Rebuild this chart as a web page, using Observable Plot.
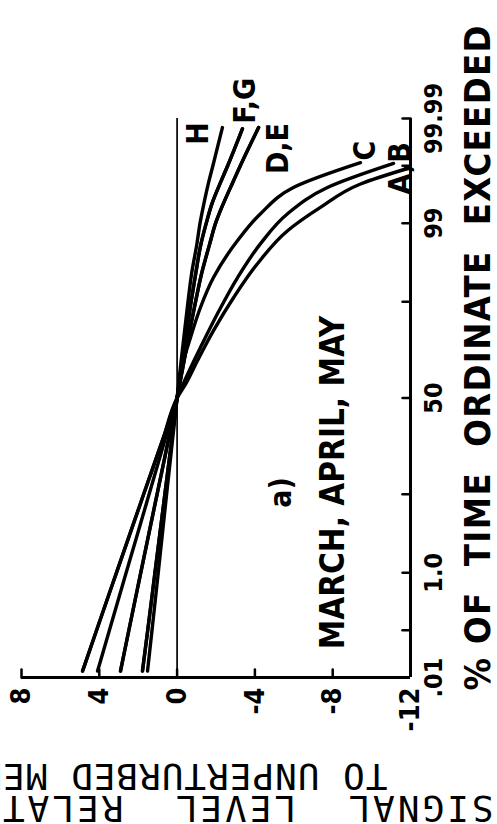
<!DOCTYPE html>
<html><head><meta charset="utf-8">
<script src="https://cdn.jsdelivr.net/npm/d3@7"></script>
<script src="https://cdn.jsdelivr.net/npm/@observablehq/plot@0.6"></script>
<style>html,body{margin:0;padding:0;background:#fff;} #chart svg{display:block}</style>
</head><body><div id="chart"></div>
<script>
// ---- data: [percent of time ordinate exceeded, signal level dB] ----
const curveA = [[0.014,4.86],[0.1,4.14],[1,3.12],[10,1.72],[30,0.70],[50,0],[57.6,-0.45],[69.1,-1.05],[81.5,-1.87],[90.9,-2.90],[96.3,-4.13],[98.7,-5.68],[99.44,-7.37],[99.78,-9.43],[99.887,-11.85]];
const curveB = [[0.014,4.86],[0.1,4.14],[1,3.12],[10,1.72],[30,0.70],[50,0],[65.5,-0.69],[74.9,-1.20],[86.95,-2.08],[94.55,-3.11],[98.0,-4.29],[99.29,-5.68],[99.745,-7.73],[99.91,-11.13]];
const curveC = [[0.014,4.09],[0.1,3.48],[1,2.62],[10,1.44],[30,0.59],[50,0],[69.1,-0.33],[78.96,-0.69],[88.57,-1.20],[94.55,-1.87],[98.19,-3.11],[99.29,-4.29],[99.745,-5.98],[99.913,-9.43]];
const curveD = [[0.014,2.91],[0.1,2.48],[1,1.87],[10,1.03],[30,0.42],[50,0],[70,-0.38],[90,-0.95],[95,-1.25],[98,-1.68],[99,-1.98],[99.5,-2.36],[99.8,-2.88],[99.9,-3.25],[99.984,-4.19]];
const curveE = [[0.014,2.91],[0.1,2.48],[1,1.87],[10,1.03],[30,0.42],[50,0],[70,-0.38],[90,-0.95],[95,-1.25],[98,-1.68],[99,-1.98],[99.5,-2.36],[99.8,-2.88],[99.9,-3.25],[99.984,-4.19]];
const curveF = [[0.014,1.78],[0.1,1.51],[1,1.14],[10,0.63],[30,0.26],[50,0],[70,-0.28],[90,-0.72],[95,-0.95],[98,-1.23],[99,-1.5],[99.5,-1.78],[99.8,-2.25],[99.9,-2.6],[99.983,-3.36]];
const curveG = [[0.014,1.78],[0.1,1.51],[1,1.14],[10,0.63],[30,0.26],[50,0],[70,-0.28],[90,-0.72],[95,-0.95],[98,-1.23],[99,-1.5],[99.5,-1.78],[99.8,-2.25],[99.9,-2.6],[99.983,-3.36]];
const curveH = [[0.014,1.52],[0.1,1.29],[1,0.97],[10,0.54],[30,0.22],[50,0],[70,-0.22],[90,-0.56],[95,-0.74],[98,-1.02],[99,-1.18],[99.5,-1.37],[99.8,-1.63],[99.9,-1.84],[99.984,-2.33]];
const curves = {A: curveA, B: curveB, C: curveC, D: curveD, E: curveE, F: curveF, G: curveG, H: curveH};

const curveLabels = ["H", "F,G", "D,E", "C", "A,B"];
const curveLabelOf = ["H", "F", "D", "C", "B"];

const xTicks = [8, 4, 0, -4, -8, -12];
const pTicks = [0.01, 0.1, 1, 10, 50, 90, 99, 99.9, 99.99];
const pLabelValues = [0.01, 1, 50, 99, 99.99];
const pLabelTexts = [".01", "1.0", "50", "99", "99.99"];

const NB = "\u00A0";
const xTitle = `%${NB}OF${NB}${NB}TIME${NB}${NB}ORDINATE${NB}${NB}EXCEEDED`;
const yTitle1 = `SIGNAL${NB}${NB}LEVEL${NB}${NB}RELATIVE`;
const yTitle2 = `TO${NB}UNPERTURBED${NB}MEDIAN`;
const panelTag = "a)";
const seasonText = "MARCH, APRIL, MAY";

// ---- normal probability (probit) transform for the % axis ----
function probit(pct) {
  const p = pct / 100;
  const a=[-3.969683028665376e+01,2.209460984245205e+02,-2.759285104469687e+02,1.383577518672690e+02,-3.066479806614716e+01,2.506628277459239e+00];
  const b=[-5.447609879822406e+01,1.615858368580409e+02,-1.556989798598866e+02,6.680131188771972e+01,-1.328068155288572e+01];
  const c=[-7.784894002430293e-03,-3.223964580411365e-01,-2.400758277161838e+00,-2.549732539343734e+00,4.374664141464968e+00,2.938163982698783e+00];
  const d=[7.784695709041462e-03,3.224671290700398e-01,2.445134137142996e+00,3.754408661907416e+00];
  const pl = 0.02425, ph = 1 - pl;
  if (p < pl) { const q = Math.sqrt(-2*Math.log(p)); return (((((c[0]*q+c[1])*q+c[2])*q+c[3])*q+c[4])*q+c[5])/((((d[0]*q+d[1])*q+d[2])*q+d[3])*q+1); }
  if (p <= ph) { const q = p - 0.5, r = q*q; return (((((a[0]*r+a[1])*r+a[2])*r+a[3])*r+a[4])*r+a[5])*q/(((((b[0]*r+b[1])*r+b[2])*r+b[3])*r+b[4])*r+1); }
  const q = Math.sqrt(-2*Math.log(1-p)); return -(((((c[0]*q+c[1])*q+c[2])*q+c[3])*q+c[4])*q+c[5])/((((d[0]*q+d[1])*q+d[2])*q+d[3])*q+1);
}

const rows = Object.entries(curves).flatMap(([name, pts]) => pts.map(([p, db]) => ({curve: name, p, db})));
const ends = curveLabels.map((t, i) => {
  const pts = curves[curveLabelOf[i]];
  const [p, db] = pts[pts.length - 1];
  return {text: t, p, db};
});
const labelOffsets = {"H": [-24, 6], "F,G": [3, -28], "D,E": [20, 21], "C": [5, -12], "A,B": [7, 5]};

const zMin = probit(pTicks[0]);
const zMax = probit(pTicks[pTicks.length - 1]);
const tickShape = {draw(ctx, l) { ctx.moveTo(0, 0); ctx.lineTo(0, -l); }};
const font = "'DejaVu Sans Condensed', 'DejaVu Sans', sans-serif";
const mono = "'DejaVu Sans Mono', monospace";

const chart = Plot.plot({
  width: 497, height: 824,
  marginLeft: 21, marginRight: 87, marginTop: 118, marginBottom: 147,
  x: {domain: [8, -12], axis: null},
  y: {domain: [zMin, zMax], axis: null},
  style: {fontFamily: font, fontWeight: "bold", background: "white", color: "black"},
  marks: [
    Plot.ruleX([0], {stroke: "black", strokeWidth: 1.7}),
    Plot.ruleY([zMin], {x1: 8, x2: -12, stroke: "black", strokeWidth: 3}),
    Plot.ruleX([-12], {stroke: "black", strokeWidth: 3}),
    Plot.vector(xTicks.slice(0, -1), {x: d => d, y: zMin, length: 8, rotate: 0, anchor: "start", shape: tickShape, stroke: "black", strokeWidth: 2.5}),
    Plot.vector(pTicks.slice(1), {x: -12, y: d => probit(d), length: 8, rotate: -90, anchor: "start", shape: tickShape, stroke: "black", strokeWidth: 2.5}),
    Plot.text(xTicks, {x: d => d, y: zMin, text: d => String(d), rotate: -90, textAnchor: "end", lineAnchor: "middle", dy: 10, fontSize: 27, fill: "black"}),
    Plot.text(pLabelValues, {x: -12, y: d => probit(d), text: (d, i) => pLabelTexts[i], rotate: -90, textAnchor: "middle", lineAnchor: "middle", dx: 23, fontSize: 25, fill: "black"}),
    Plot.line(rows, {x: "db", y: d => probit(d.p), z: "curve", curve: "monotone-y", stroke: "black", strokeWidth: 3.4, strokeLinecap: "round"}),
    ...ends.map(e => Plot.text([e], {x: "db", y: d => probit(d.p), text: "text", rotate: -90, textAnchor: "middle", lineAnchor: "middle", dx: labelOffsets[e.text][0], dy: labelOffsets[e.text][1], fontSize: 30, fill: "black"})),
    Plot.text([panelTag], {frameAnchor: "top-left", dx: 260, dy: 374, rotate: -90, textAnchor: "middle", lineAnchor: "middle", fontSize: 30, fill: "black"}),
    Plot.text([seasonText], {frameAnchor: "top-left", dx: 312, dy: 364, rotate: -90, textAnchor: "middle", lineAnchor: "middle", fontSize: 33, fill: "black"}),
    Plot.text([xTitle], {frameAnchor: "bottom-right", dx: 68, dy: 13, rotate: -90, textAnchor: "start", lineAnchor: "middle", fontSize: 36, fill: "black"}),
    Plot.text([yTitle1], {frameAnchor: "bottom-right", dx: 83, dy: 130, rotate: 180, textAnchor: "start", lineAnchor: "middle", fontSize: 36, fontFamily: mono, fontWeight: "normal", fill: "black"}),
    Plot.text([yTitle2], {frameAnchor: "bottom-right", dx: -23, dy: 98, rotate: 180, textAnchor: "start", lineAnchor: "middle", fontSize: 36, fontFamily: mono, fontWeight: "normal", fill: "black"})
  ]
});
const spacing = new Map([[xTitle, "1.4px"], [yTitle1, "3px"], [yTitle2, "1px"]]);
d3.select(chart).selectAll("text").each(function () {
  const s = spacing.get(this.textContent);
  if (s) this.style.letterSpacing = s;
});
document.getElementById("chart").appendChild(chart);
</script>
</body></html>
